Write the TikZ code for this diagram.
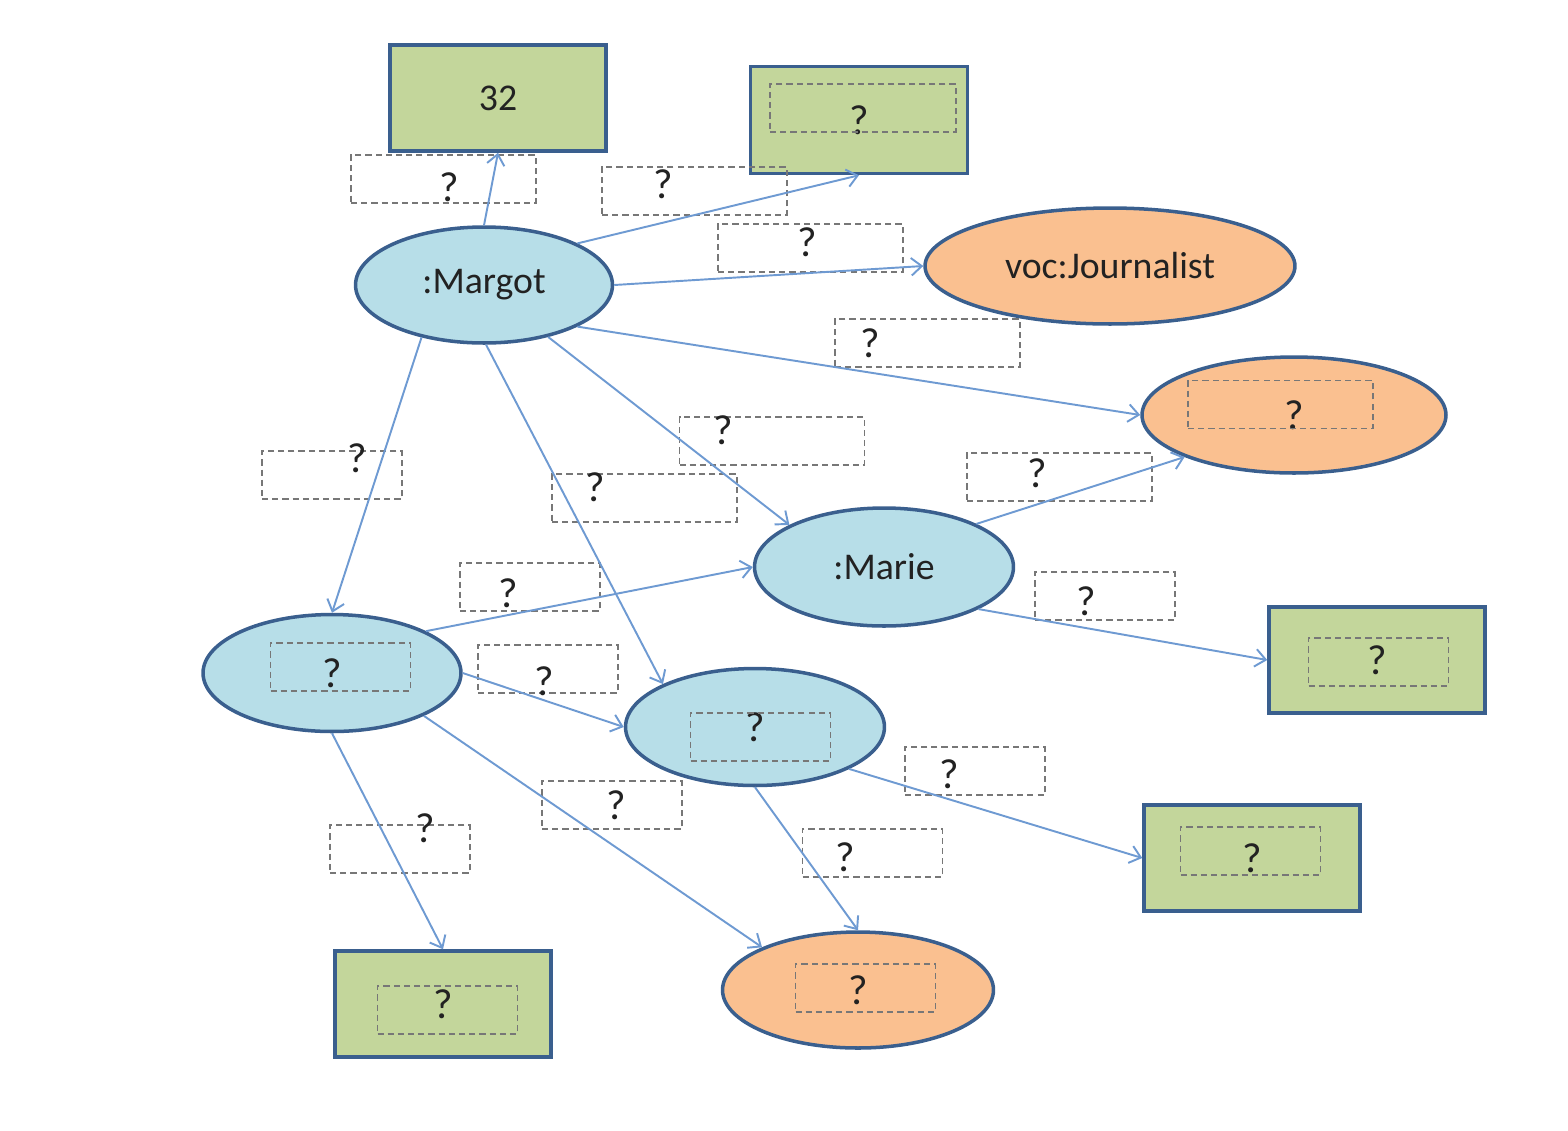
\documentclass[tikz,border=0pt]{standalone}
\usepackage{fontspec}
\setmainfont{Carlito}
\usetikzlibrary{shapes,arrows.meta}

\definecolor{nodeborder}{HTML}{3A5F8E}
\definecolor{resblue}{HTML}{B7DEE8}
\definecolor{clsorange}{HTML}{FAC090}
\definecolor{litgreen}{HTML}{C3D69B}
\definecolor{edgeblue}{HTML}{6E9AD2}
\definecolor{dashgray}{HTML}{777777}
\definecolor{inkgray}{HTML}{222222}

\begin{document}
\begin{tikzpicture}[
    x=0.02cm, y=-0.02cm,
    res/.style={ellipse, draw=nodeborder, line width=2pt, fill=resblue, inner sep=0pt, minimum width=5.16cm, minimum height=2.34cm, text=inkgray, font=\fontsize{21.5}{25}\selectfont},
    cls/.style={res, fill=clsorange},
    lit/.style={rectangle, draw=nodeborder, line width=2pt, fill=litgreen, inner sep=0pt, minimum width=4.32cm, minimum height=2.12cm, text=inkgray, font=\fontsize{21.5}{25}\selectfont},
    unk/.style={font=\fontsize{24}{28}\selectfont},
    qbox/.style={rectangle, draw=dashgray, dash pattern=on 3.5pt off 2.3pt, line width=1pt, inner sep=0pt, minimum width=2.8cm, minimum height=0.96cm},
    wide/.style={minimum width=3.7cm},
    qmark/.style={inner sep=0pt, text=inkgray, font=\fontsize{24}{28}\selectfont},
    arrow/.style={-{Straight Barb[length=6pt,width=10pt]}, draw=edgeblue, line width=1.1pt}
]
    \useasboundingbox (0,0) rectangle (1568,1130);

    % resources
    \node[res, minimum width=5.14cm, minimum height=2.32cm] (margot) at (484,285) {:Margot};
    \node[res, minimum width=5.18cm, minimum height=2.36cm] (marie) at (884,567) {:Marie};
    \node[res, unk] (left) at (332,673) {?};
    \node[res, unk, minimum width=5.18cm] (middle) at (755,727) {?};

    % classes
    \node[cls, minimum width=7.4cm, minimum height=2.32cm] (journalist) at (1110,266) {voc:Journalist};
    \node[cls, unk, minimum width=6.08cm, minimum height=2.32cm] (otherclass) at (1294,415) {?};
    \node[cls, unk, minimum width=5.42cm, minimum height=2.32cm] (bottomclass) at (858,990) {?};

    % literals
    \node[lit] (age) at (498,98) {32};
    \node[lit, unk, minimum width=4.34cm, minimum height=2.14cm] (toplit) at (859,120) {?};
    \node[lit, unk] (marielit) at (1377,660) {?};
    \node[lit, unk] (middlelit) at (1252,858) {?};
    \node[lit, unk] (leftlit) at (443,1004) {?};

    % blanks inside the nodes
    \node[qbox, minimum width=3.72cm] (toplitbox) at (863,108) {};
    \node[qbox, wide] (otherclassbox) at (1280.5,404.5) {};
    \node[qbox] (marielitbox) at (1378.5,662) {};
    \node[qbox] (leftbox) at (340.5,667) {};
    \node[qbox] (middlebox) at (760.5,737) {};
    \node[qbox] (middlelitbox) at (1250.5,851) {};
    \node[qbox] (leftlitbox) at (447.5,1010) {};
    \node[qbox] (bottomclassbox) at (865.5,988) {};

    % edge label blanks
    \node[qbox, wide] (lage) at (443.5,179) {};
    \node[qmark] (qage) at (449,187) {?};
    \node[qbox, wide] (ltoplit) at (694.5,191) {};
    \node[qmark] (qtoplit) at (663,184) {?};
    \node[qbox, wide] (ljournalist) at (810.5,248) {};
    \node[qmark] (qjournalist) at (807,242) {?};
    \node[qbox, wide] (lotherclass) at (927.5,343) {};
    \node[qmark] (qotherclass) at (870,343) {?};
    \node[qbox, wide] (lmarie) at (772,441) {};
    \node[qmark] (qmarie) at (723,430) {?};
    \node[qbox, wide] (lmiddle) at (644.5,498) {};
    \node[qmark] (qmiddle) at (595,487) {?};
    \node[qbox] (lleft) at (332,475) {};
    \node[qmark] (qleft) at (357,458) {?};
    \node[qbox, wide] (lmarieclass) at (1059.5,477) {};
    \node[qmark] (qmarieclass) at (1037,473) {?};
    \node[qbox] (lleftmarie) at (530,587) {};
    \node[qmark] (qleftmarie) at (508,593) {?};
    \node[qbox] (lmarielit) at (1105,596) {};
    \node[qmark] (qmarielit) at (1086,601) {?};
    \node[qbox] (lleftmiddle) at (548,669) {};
    \node[qmark] (qleftmiddle) at (544,681) {?};
    \node[qbox] (lmiddlelit) at (975,771) {};
    \node[qmark] (qmiddlelit) at (949,774) {?};
    \node[qbox] (lleftclass) at (612,805) {};
    \node[qmark] (qleftclass) at (616,805) {?};
    \node[qbox] (lleftlit) at (400,849) {};
    \node[qmark] (qleftlit) at (425,828) {?};
    \node[qbox] (lmiddleclass) at (872.5,853) {};
    \node[qmark] (qmiddleclass) at (845,857) {?};

    % edges
    \draw[arrow] (margot.north) -- (age.south);
    \draw[arrow] (margot.24) -- (toplit.south);
    \draw[arrow] (margot.east) -- (journalist.west);
    \draw[arrow] (margot.-24) -- (otherclass.west);
    \draw[arrow] (margot.-39) -- (marie.156);
    \draw[arrow] (margot.-88) -- (middle.155);
    \draw[arrow] (margot.220) -- (left.north);
    \draw[arrow] (marie.25) -- (otherclass.201);
    \draw[arrow] (left.24) -- (marie.west);
    \draw[arrow] (marie.-24) -- (marielit.west);
    \draw[arrow] (left.east) -- (middle.west);
    \draw[arrow] (middle.-24) -- (middlelit.west);
    \draw[arrow] (left.-25) -- (bottomclass.156);
    \draw[arrow] (left.south) -- (leftlit.north);
    \draw[arrow] (middle.south) -- (bottomclass.north);
\end{tikzpicture}
\end{document}
